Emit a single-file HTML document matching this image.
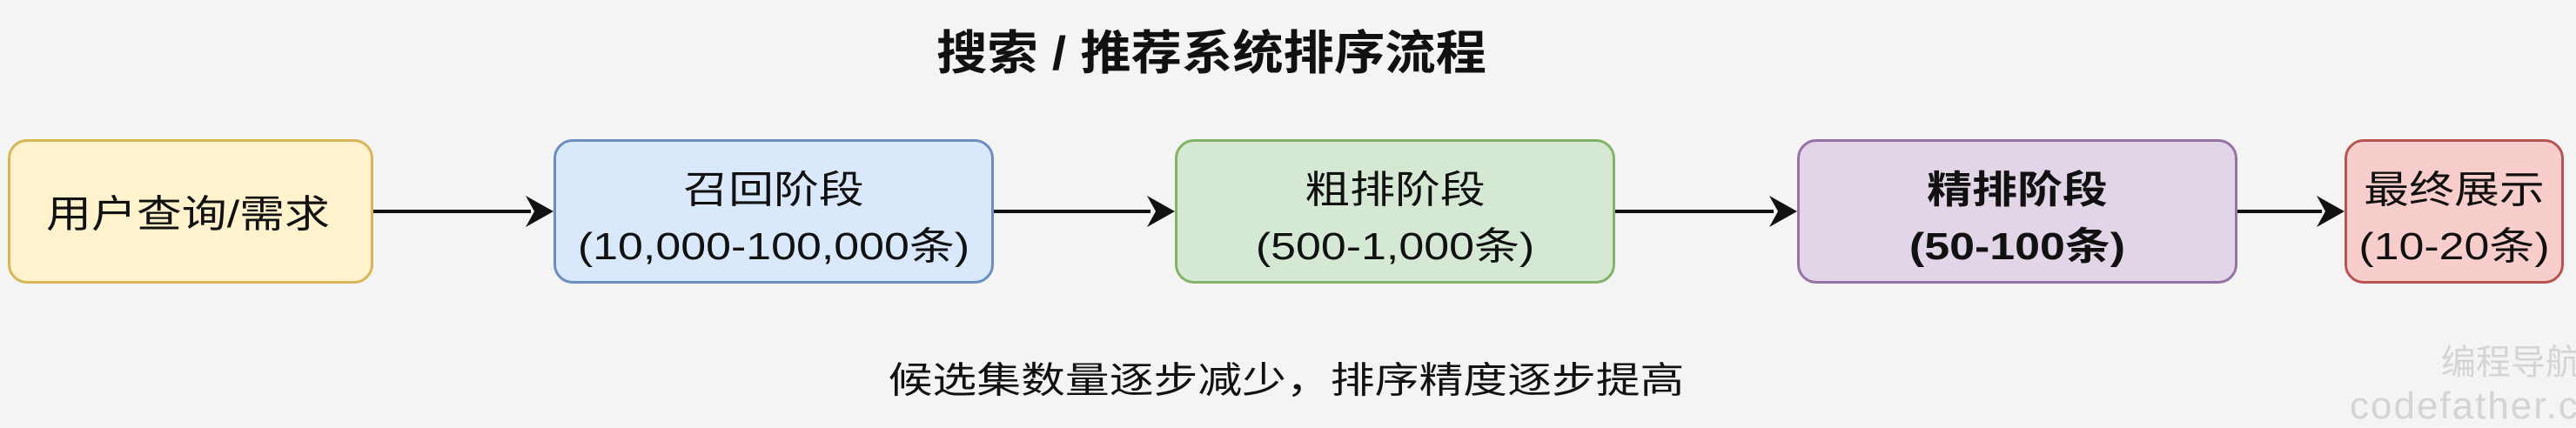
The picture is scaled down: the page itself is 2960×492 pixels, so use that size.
<!DOCTYPE html>
<html><head><meta charset="utf-8"><style>
html,body{margin:0;padding:0;}
body{width:2960px;height:474px;background:#f4f4f4;position:relative;overflow:hidden;font-family:"Liberation Sans","Noto Sans CJK SC",sans-serif;color:#111;}
.t{position:absolute;white-space:nowrap;transform:translate(-50%,-50%) scaleX(1.18);}
.box{position:absolute;top:160px;height:166px;border:3px solid;border-radius:22px;box-sizing:border-box;}
</style></head><body>
<div class="t" style="left:1392px;top:56px;font-size:54px;font-weight:bold;transform:translate(-50%,-50%) scaleX(1.08);">搜索 / 推荐系统排序流程</div>

<svg style="position:absolute;left:0;top:0" width="2960" height="474">
<g stroke="#111" stroke-width="4">
<line x1="429" y1="243" x2="610" y2="243"/>
<line x1="1142" y1="243" x2="1322" y2="243"/>
<line x1="1856" y1="243" x2="2038" y2="243"/>
<line x1="2571" y1="243" x2="2668" y2="243"/>
</g>
<g fill="#111">
<polygon points="636,243 604,225 614,243 604,261"/>
<polygon points="1350,243 1318,225 1328,243 1318,261"/>
<polygon points="2065,243 2033,225 2043,243 2033,261"/>
<polygon points="2694,243 2662,225 2672,243 2662,261"/>
</g>
</svg>

<div class="box" style="left:9px;width:420px;background:#fff2cc;border-color:#d6b656"></div>
<div class="box" style="left:636px;width:506px;background:#dae8fc;border-color:#6c8ebf"></div>
<div class="box" style="left:1350px;width:506px;background:#d5e8d4;border-color:#82b366"></div>
<div class="box" style="left:2065px;width:506px;background:#e1d5e7;border-color:#9673a6"></div>
<div class="box" style="left:2694px;width:252px;background:#f8cecc;border-color:#b85450"></div>

<div class="t" style="left:216px;top:242px;font-size:44px;">用户查询/需求</div>
<div class="t" style="left:889px;top:214px;font-size:44px;">召回阶段</div>
<div class="t" style="left:889px;top:279px;font-size:44px;">(10,000-100,000条)</div>
<div class="t" style="left:1603px;top:214px;font-size:44px;">粗排阶段</div>
<div class="t" style="left:1603px;top:279px;font-size:44px;">(500-1,000条)</div>
<div class="t" style="left:2318px;top:214px;font-size:44px;font-weight:bold;">精排阶段</div>
<div class="t" style="left:2318px;top:279px;font-size:44px;font-weight:bold;">(50-100条)</div>
<div class="t" style="left:2820px;top:214px;font-size:44px;">最终展示</div>
<div class="t" style="left:2820px;top:279px;font-size:44px;">(10-20条)</div>

<div class="t" style="left:1478px;top:434px;font-size:42px;transform:translate(-50%,-50%) scaleX(1.21);">候选集数量逐步减少，排序精度逐步提高</div>

<div style="position:absolute;left:2805px;top:384px;font-size:40px;color:#d4d4d4;white-space:nowrap;">编程导航</div>
<div style="position:absolute;left:2700px;top:442px;font-size:44px;color:#d4d4d4;white-space:nowrap;letter-spacing:2px;">codefather.cn</div>
</body></html>
